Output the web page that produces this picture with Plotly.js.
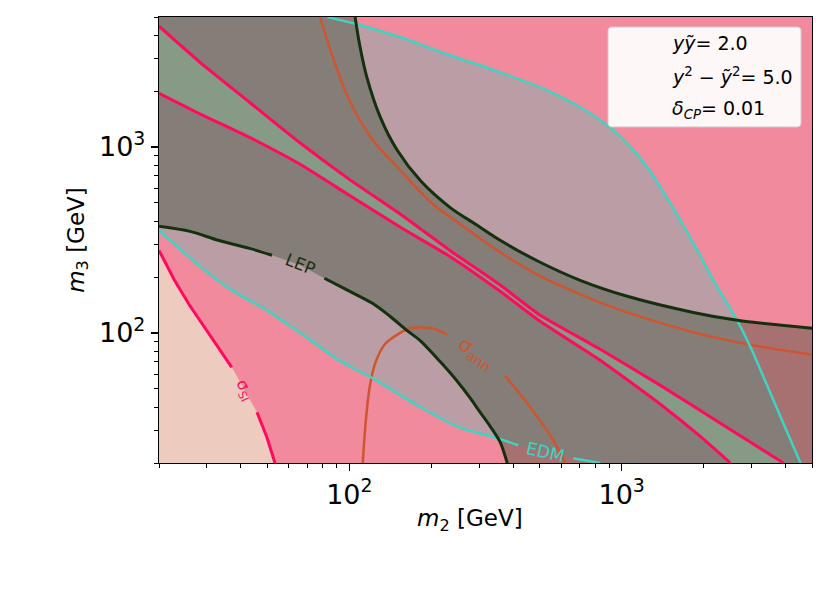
<!DOCTYPE html>
<html>
<head>
<meta charset="utf-8">
<script src="https://cdn.plot.ly/plotly-3.0.1.min.js"></script>
<style>
  html, body { margin: 0; padding: 0; background: #fff; }
  #chart { width: 830px; height: 593px; }
</style>
</head>
<body>
<div id="chart"></div>
<script>
// contour lines: m2 (x) and m3 (y), both in GeV

// LEP, lower-left branch and upper-right branch
const lepLoX = [20, 26, 33, 43, 52, 66, 81, 100, 122, 141, 163, 182, 215, 249, 278, 302, 329, 358, 380]
const lepLoY = [375, 352, 315, 285, 262, 231, 197, 168, 144, 123, 103, 91, 70.4, 55, 44.6, 37.5, 31.5, 25.9, 20]
const lepHiX = [105, 109, 116, 130, 150, 182, 234, 295, 358, 502, 704, 1049, 1833, 2661, 5000]
const lepHiY = [5000, 3566, 2369, 1444, 960, 662, 474, 379, 315, 240, 192, 157.5, 129, 117, 106]

// EDM, lower branch and upper/right branch
const edmLoX = [20, 28, 37, 50, 66, 92, 122, 182, 255, 349, 417, 664, 834]
const edmLoY = [357, 231, 170, 132, 100, 71, 57, 40, 31, 27.2, 24.9, 21.2, 20]
const edmHiX = [83, 107, 154, 234, 302, 533, 704, 885, 1049, 1242, 1509, 1897, 2172, 2661, 2971, 3609, 4536]
const edmHiY = [5000, 4567, 3889, 3112, 2750, 2018, 1635, 1308, 1047, 778, 498, 278, 192, 116, 84, 43.5, 20]

// sigma_SI: lower-left corner and the two edges of the narrow band
const ssiX = [20, 22.8, 25.9, 30.7, 37, 41.3, 45.8, 49.8, 53.3]
const ssiY = [278, 192, 141, 97, 65.4, 49.2, 37.5, 27.5, 20]
const bandUpX = [20, 28, 43, 66, 100, 154, 234, 358, 502, 834, 1387, 2304, 3929]
const bandUpY = [4460, 2890, 1740, 1050, 670, 435, 278, 181, 124.5, 81.7, 52.3, 32.7, 20]
const bandLoX = [20, 28, 43, 66, 100, 154, 234, 358, 502, 834, 1387, 1945, 2508]
const bandLoY = [1944, 1518, 1127, 807, 550, 370, 258, 167.6, 115.6, 71.3, 41.4, 27.8, 20]

// sigma_ann, upper branch and lower arc
const annHiX = [78, 87, 100, 122, 154, 203, 271, 358, 502, 704, 1049, 1833, 2896, 5000]
const annHiY = [5000, 3036, 1783, 1087, 749, 492, 361, 272, 202, 161.5, 129, 100.9, 87, 76.3]
const annLoX = [112, 115, 119, 125, 135, 150, 167, 187, 206, 229, 373, 461, 561, 621]
const annLoY = [20, 34, 52, 70, 87, 98, 106, 107, 105, 98, 59, 40, 26.5, 20]

// inline contour labels
const labelText = ['LEP', 'σ<sub>SI</sub>', 'σ<sub>ann</sub>', 'EDM']
const labelX = [66, 41.3, 292, 524]
const labelY = [234, 49, 78, 22.8]

const boxLines = [
	'<i>yỹ</i>= 2.0',
	'<i>y</i><sup>2</sup> − <i>ỹ</i><sup>2</sup>= 5.0',
	'<i>δ</i><sub><i>CP</i></sub>= 0.01',
]

const majorTicks = [100, 1000]
const majorText = ['10<sup>2</sup>', '10<sup>3</sup>']
const minorTicks = [20, 30, 40, 50, 60, 70, 80, 90, 200, 300, 400, 500, 600, 700, 800, 900, 2000, 3000, 4000, 5000]

const LO = 20, HI = 5000
const FONT = 'DejaVu Sans, Verdana, sans-serif'

const C = {
	pink: '#f08a9c', peach: '#eecbbf', mauve: '#bb9da6', band: '#bdc9bb',
	lepFill: 'rgba(34,66,35,0.35)',
	lep: '#15300f', edm: '#3dd4c2', ssi: '#ff0a5e', ann: '#cf5530',
}

const rev = a => [...a].reverse()
// drop the points under a contour label and break the line there
const gap = (a, i, skip = 0) => [...a.slice(0, i + 1), null, ...a.slice(i + 1 + skip)]

const area = (x, y, fillcolor) => ({
	x, y, type: 'scatter', mode: 'lines', fill: 'toself', fillcolor,
	line: { width: 0 }, hoverinfo: 'skip', showlegend: false,
})
const line = (x, y, color, width, shape = 'spline', smoothing = 0.8) => ({
	x, y, type: 'scatter', mode: 'lines', connectgaps: false,
	line: { color, width, shape, smoothing }, hoverinfo: 'skip', showlegend: false,
})

const traces = [
	area([...ssiX, LO], [...ssiY, LO], C.peach),
	area([...edmLoX, ...rev(edmHiX), LO], [...edmLoY, ...rev(edmHiY), HI], C.mauve),
	area([...bandUpX, ...rev(bandLoX)], [...bandUpY, ...rev(bandLoY)], C.band),
	area([...lepLoX, HI, ...rev(lepHiX), LO], [...lepLoY, LO, ...rev(lepHiY), HI], C.lepFill),

	line(gap(ssiX, 4, 1), gap(ssiY, 4, 1), C.ssi, 3, 'linear'),
	line(bandUpX, bandUpY, C.ssi, 3, 'spline', 0.5),
	line(bandLoX, bandLoY, C.ssi, 3, 'spline', 0.5),
	line(annHiX, annHiY, C.ann, 2.5),
	line(gap(annLoX, 9), gap(annLoY, 9), C.ann, 2.5),
	line(gap(edmLoX, 10), gap(edmLoY, 10), C.edm, 2.5),
	line(edmHiX, edmHiY, C.edm, 2.5),
	line(gap(lepLoX, 4, 1), gap(lepLoY, 4, 1), C.lep, 3),
	line(lepHiX, lepHiY, C.lep, 3),
]

const labelColor = [C.lep, C.ssi, C.ann, C.edm]
const labelAngle = [22, 64, 35, 13]
const labelSize = [17, 16, 20, 17]
const annotations = labelText.map((text, i) => ({
	x: Math.log10(labelX[i]), y: Math.log10(labelY[i]), xref: 'x', yref: 'y',
	text, showarrow: false, textangle: labelAngle[i],
	font: { family: FONT, size: labelSize[i], color: labelColor[i] },
}))
boxLines.forEach((text, i) => annotations.push({
	x: 0.7825, y: 0.9417 - i * 0.074, xref: 'paper', yref: 'paper',
	xanchor: 'left', yanchor: 'middle', text, showarrow: false,
	font: { family: FONT, size: 19, color: '#000' },
}))
// x axis label sits a little left of centre in the original
annotations.push({
	x: 0.476, y: -0.128, xref: 'paper', yref: 'paper', yanchor: 'middle',
	text: '<i>m</i><sub>2</sub> [GeV]', showarrow: false,
	font: { family: FONT, size: 23, color: '#000' },
})

// rounded legend-style frame, paper coordinates
const bx0 = 0.6876, bx1 = 0.9832, by0 = 0.7534, by1 = 0.9776, rx = 0.006, ry = 0.009
const boxPath = `M ${bx0 + rx},${by0} L ${bx1 - rx},${by0} Q ${bx1},${by0} ${bx1},${by0 + ry}` +
	` L ${bx1},${by1 - ry} Q ${bx1},${by1} ${bx1 - rx},${by1} L ${bx0 + rx},${by1}` +
	` Q ${bx0},${by1} ${bx0},${by1 - ry} L ${bx0},${by0 + ry} Q ${bx0},${by0} ${bx0 + rx},${by0} Z`

const axis = {
	type: 'log', range: [Math.log10(LO), Math.log10(HI)],
	tickmode: 'array', tickvals: majorTicks, ticktext: majorText,
	ticks: 'outside', ticklen: 7, tickwidth: 1.2, tickcolor: '#000',
	minor: { tickmode: 'array', tickvals: minorTicks, ticks: 'outside', ticklen: 4, tickwidth: 1, tickcolor: '#000', showgrid: false },
	showline: true, linecolor: '#000', linewidth: 1.2, mirror: true,
	showgrid: false, zeroline: false,
	tickfont: { family: FONT, size: 27, color: '#000' },
}

Plotly.newPlot('chart', traces, {
	width: 830, height: 593,
	margin: { l: 159, r: 18, t: 17, b: 130 },
	paper_bgcolor: '#fff', plot_bgcolor: C.pink,
	font: { family: FONT, color: '#000' },
	xaxis: { ...axis },
	yaxis: { ...axis, title: { text: '<i>m</i><sub>3</sub> [GeV]', font: { family: FONT, size: 23 }, standoff: 8 } },
	shapes: [{
		type: 'path', xref: 'paper', yref: 'paper', path: boxPath,
		fillcolor: 'rgba(255,255,255,0.93)', line: { color: 'rgba(215,200,204,1)', width: 1 },
	}],
	annotations,
	showlegend: false,
}, { displayModeBar: false, staticPlot: true })
</script>
</body>
</html>
